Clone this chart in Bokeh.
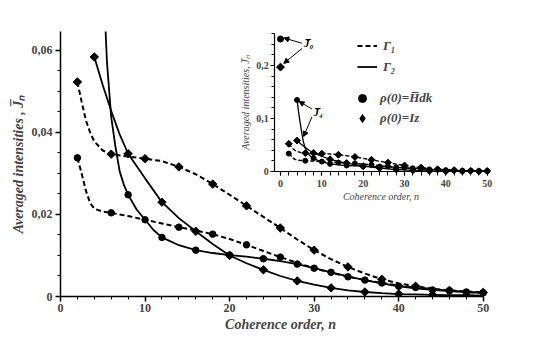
import numpy as np
from bokeh.plotting import figure
from bokeh.models import (Range1d, LinearAxis, FixedTicker, CustomJSTickFormatter,
                          Legend, LegendItem, Label, Arrow, NormalHead)
from bokeh.embed import file_html
from bokeh.resources import INLINE

# ---------------- data ----------------
# Gamma_1 (dashed), rho(0) = H_dk (circles)
n_g1_h = [2, 2.5, 3, 3.5, 4, 5, 6, 8, 10, 12, 14, 16, 18, 20, 22, 24, 26, 28, 30,
          32, 34, 36, 38, 40, 42, 44, 46, 48, 50]
g1_h = [0.0338, 0.0300, 0.0258, 0.0228, 0.0214, 0.0207, 0.0204, 0.0196, 0.0187,
        0.0178, 0.0169, 0.0161, 0.0152, 0.0140, 0.0126, 0.0111, 0.0096, 0.0082,
        0.0069, 0.0058, 0.0048, 0.0040, 0.0033, 0.0027, 0.0022, 0.0018, 0.0014,
        0.0011, 0.0009]
# Gamma_1 (dashed), rho(0) = I_z (diamonds)
n_g1_z = [2, 2.5, 3, 3.5, 4, 5, 6, 8, 10, 12, 14, 16, 18, 20, 22, 24, 26, 28, 30,
          32, 34, 36, 38, 40, 42, 44, 46, 48, 50]
g1_z = [0.0523, 0.0475, 0.0430, 0.0400, 0.0378, 0.0356, 0.0347, 0.0341, 0.0336,
        0.0330, 0.0316, 0.0298, 0.0274, 0.0248, 0.0221, 0.0194, 0.0167, 0.0139,
        0.0113, 0.0091, 0.0072, 0.0056, 0.0042, 0.0032, 0.0025, 0.0019, 0.0015,
        0.0012, 0.0010]
# Gamma_2 (solid), rho(0) = H_dk (circles)
n_g2_h = [4, 4.5, 5, 5.5, 6, 6.5, 7, 7.5, 8, 9, 10, 11, 12, 14, 16, 18, 20, 22, 24,
          26, 28, 30, 32, 34, 36, 38, 40, 42, 44, 46, 48, 50]
g2_h = [0.135, 0.105, 0.080, 0.057, 0.0437, 0.0365, 0.0305, 0.0272, 0.0248, 0.0212,
        0.0187, 0.0162, 0.0144, 0.0125, 0.0113, 0.0106, 0.0101, 0.0097, 0.0092,
        0.0086, 0.0079, 0.0069, 0.0059, 0.0049, 0.0040, 0.0032, 0.0025, 0.0020,
        0.0016, 0.0013, 0.0011, 0.0009]
# Gamma_2 (solid), rho(0) = I_z (diamonds)
n_g2_z = [4, 5, 6, 7, 8, 10, 12, 14, 16, 18, 20, 22, 24, 26, 28, 30, 32, 34, 36, 38,
          40, 42, 44, 46, 48, 50]
g2_z = [0.0584, 0.0515, 0.0452, 0.0395, 0.0348, 0.0288, 0.0230, 0.0191, 0.0159,
        0.0128, 0.0100, 0.0081, 0.0065, 0.0050, 0.0038, 0.0029, 0.0021, 0.0015,
        0.0011, 0.0008, 0.0006, 0.0005, 0.0004, 0.0003, 0.0003, 0.0002]
# zero-order intensities (inset only)
n_j0 = [0]
j0_h = [0.25]
j0_z = [0.197]

main_xticks = [0, 10, 20, 30, 40, 50]
main_yticks = [0, 0.02, 0.04, 0.06]
inset_xticks = [0, 10, 20, 30, 40, 50]
inset_yticks = [0, 0.1, 0.2]

FONT = "Liberation Serif"

# ---------------- figure ----------------
PX_PER_N = 8.455           # main plot scale
FW = 440                   # frame width (a little wider than the 0..50 axis)
p = figure(frame_width=FW, frame_height=265,
           x_range=Range1d(0, FW / PX_PER_N), y_range=Range1d(0, 0.0646),
           min_border_left=60, min_border_top=31, min_border_right=28,
           min_border_bottom=60, output_backend="svg", toolbar_location=None)
p.outline_line_color = None
p.grid.visible = False
p.background_fill_color = "white"

# inset mapped onto the main frame through extra ranges
ipx_x = 206.7 / 50.0      # px per unit n in the inset
ipx_y = 530.0             # px per unit intensity in the inset
ix0 = -220.0 / ipx_x
iy0 = -125.0 / ipx_y
p.extra_x_ranges = {"ix": Range1d(ix0, ix0 + FW / ipx_x)}
p.extra_y_ranges = {"iy": Range1d(iy0, iy0 + 265 / ipx_y)}


def style_axis(ax, tick_size, label_size, label_style, lw):
    ax.axis_line_width = lw
    ax.major_tick_line_width = lw
    ax.minor_tick_line_width = 1
    ax.major_tick_in = 0
    ax.minor_tick_in = 0
    ax.major_label_text_font = FONT
    ax.major_label_text_font_style = "bold"
    ax.major_label_text_font_size = tick_size
    ax.axis_label_text_font = FONT
    ax.axis_label_text_font_style = label_style
    ax.axis_label_text_font_size = label_size
    ax.axis_line_color = "black"
    ax.major_tick_line_color = "black"
    ax.minor_tick_line_color = "black"


xa = p.xaxis[0]
xa.ticker = FixedTicker(ticks=main_xticks, minor_ticks=list(range(0, 51, 2)))
xa.bounds = (0, 50)
xa.axis_label = "Coherence order, n"
style_axis(xa, "12px", "14px", "bold italic", 1.5)
xa.major_tick_out = 5
xa.minor_tick_out = 3
xa.major_label_standoff = 2
xa.axis_label_standoff = 2

ya = p.yaxis[0]
ya.ticker = FixedTicker(ticks=main_yticks,
                        minor_ticks=[i * 0.005 for i in range(13)])
ya.formatter = CustomJSTickFormatter(
    code="return tick == 0 ? '0' : tick.toFixed(2).replace('.', ',')")
ya.axis_label = "Averaged intensities , J\u0305\u2099"
style_axis(ya, "12px", "14px", "bold italic", 1.5)
ya.major_tick_out = 5
ya.minor_tick_out = 3
ya.major_label_standoff = 3
ya.axis_label_standoff = 3

# inset axes
ixa = LinearAxis(x_range_name="ix", y_range_name="iy", fixed_location=0,
                 bounds=(-1.4, 50),
                 ticker=FixedTicker(ticks=inset_xticks,
                                    minor_ticks=list(range(0, 51, 2))),
                 axis_label="Coherence order, n")
style_axis(ixa, "10px", "10px", "italic", 1.2)
ixa.major_tick_out = 4
ixa.minor_tick_out = 4
ixa.major_label_standoff = 4
ixa.axis_label_standoff = 1
p.add_layout(ixa, "below")

iya = LinearAxis(x_range_name="ix", y_range_name="iy", fixed_location=-1.4,
                 bounds=(0, 0.261),
                 ticker=FixedTicker(ticks=inset_yticks,
                                    minor_ticks=[i * 0.02 for i in range(14)]),
                 formatter=CustomJSTickFormatter(
                     code="return tick == 0 ? '0' : tick.toFixed(1).replace('.', ',')"),
                 axis_label="Averaged intensities, J\u0305\u2099")
style_axis(iya, "10px", "10px", "italic", 1.2)
iya.major_tick_out = 4
iya.minor_tick_out = 3
iya.major_label_standoff = 2
iya.axis_label_standoff = 2
p.add_layout(iya, "left")

# ---------------- series ----------------
series = [
    (n_g1_h, g1_h, "5 3", "circle", 2),
    (n_g1_z, g1_z, "5 3", "diamond", 2),
    (n_g2_h, g2_h, "solid", "circle", 0),
    (n_g2_z, g2_z, "solid", "diamond", 0),
]


def mark(xs, ys, marker, size, **kw):
    if marker == "circle":
        return p.scatter(xs, ys, marker="circle", size=size, fill_color="black",
                         line_color="black", **kw)
    return p.scatter(xs, ys, marker="square", angle=np.pi / 4, size=size * 0.7,
                     fill_color="black", line_color="black", **kw)


rends = {}
for n, v, dash, marker, rem in series:
    n = np.asarray(n, dtype=float)
    v = np.asarray(v, dtype=float)
    sel = (n % 4 == rem)
    msize_main = 6.5 if marker == "circle" else 8.5
    msize_in = 5 if marker == "circle" else 7
    # main plot
    rl = p.line(n, v, line_color="black", line_width=2 if dash != "solid" else 1.8,
                line_dash=dash)
    rm = mark(n[sel], v[sel], marker, msize_main)
    rends[(dash, marker)] = (rl, rm)
    # inset
    p.line(n, v, line_color="black", line_width=1.4 if dash != "solid" else 1.3,
           line_dash="4 2" if dash != "solid" else "solid",
           x_range_name="ix", y_range_name="iy")
    mark(n[sel], v[sel], marker, msize_in, x_range_name="ix", y_range_name="iy")

mark(n_j0, j0_h, "circle", 6, x_range_name="ix", y_range_name="iy")
mark(n_j0, j0_z, "diamond", 8, x_range_name="ix", y_range_name="iy")

# glyphs used only as legend keys (no data drawn)
key_circle = p.scatter([np.nan], [np.nan], marker="circle", size=8,
                       fill_color="black", line_color="black")
key_diamond = p.scatter([np.nan], [np.nan], marker="diamond", size=10,
                        fill_color="black", line_color="black")

# ---------------- annotations in the inset ----------------
lab_kw = dict(x_range_name="ix", y_range_name="iy", text_font=FONT,
              text_font_style="bold italic", text_font_size="11px",
              text_baseline="middle", text_align="left", text_color="black")
p.add_layout(Label(x=5.7, y=0.243, text="J\u0305\u2080", **lab_kw))
p.add_layout(Label(x=8.0, y=0.112, text="J\u0305\u2084", **lab_kw))

arr_kw = dict(x_range_name="ix", y_range_name="iy", line_width=1,
              line_color="black")


def head():
    return NormalHead(size=5, fill_color="black", line_color="black")


p.add_layout(Arrow(x_start=5.2, y_start=0.242, x_end=n_j0[0] + 0.8,
                   y_end=j0_h[0] + 0.002, end=head(), **arr_kw))
p.add_layout(Arrow(x_start=5.2, y_start=0.232, x_end=n_j0[0] + 0.8,
                   y_end=j0_z[0] + 0.007, end=head(), **arr_kw))
p.add_layout(Arrow(x_start=7.6, y_start=0.118, x_end=n_g2_h[0] + 0.5,
                   y_end=g2_h[0] - 0.003, end=head(), **arr_kw))
p.add_layout(Arrow(x_start=7.6, y_start=0.103, x_end=5.6, y_end=0.066,
                   end=head(), **arr_kw))

# ---------------- legends ----------------
leg_kw = dict(label_text_font=FONT, label_text_font_style="bold italic",
              label_text_font_size="13px", padding=0, margin=0, spacing=0,
              border_line_color=None, background_fill_alpha=0,
              glyph_width=20)
leg1 = Legend(items=[
    LegendItem(label="\u0393\u2081", renderers=[rends[("5 3", "circle")][0]]),
    LegendItem(label="\u0393\u2082", renderers=[rends[("solid", "circle")][0]]),
], location=(297, 219), glyph_height=21, label_height=21, label_standoff=6,
    **leg_kw)
leg2 = Legend(items=[
    LegendItem(label="\u03c1(0)=H\u0305dk", renderers=[key_circle]),
    LegendItem(label="\u03c1(0)=Iz", renderers=[key_diamond]),
], location=(292, 168), glyph_height=20, label_height=20, label_standoff=8,
    **leg_kw)
p.add_layout(leg1, "center")
p.add_layout(leg2, "center")

open("out.html", "w").write(file_html(p, INLINE))
